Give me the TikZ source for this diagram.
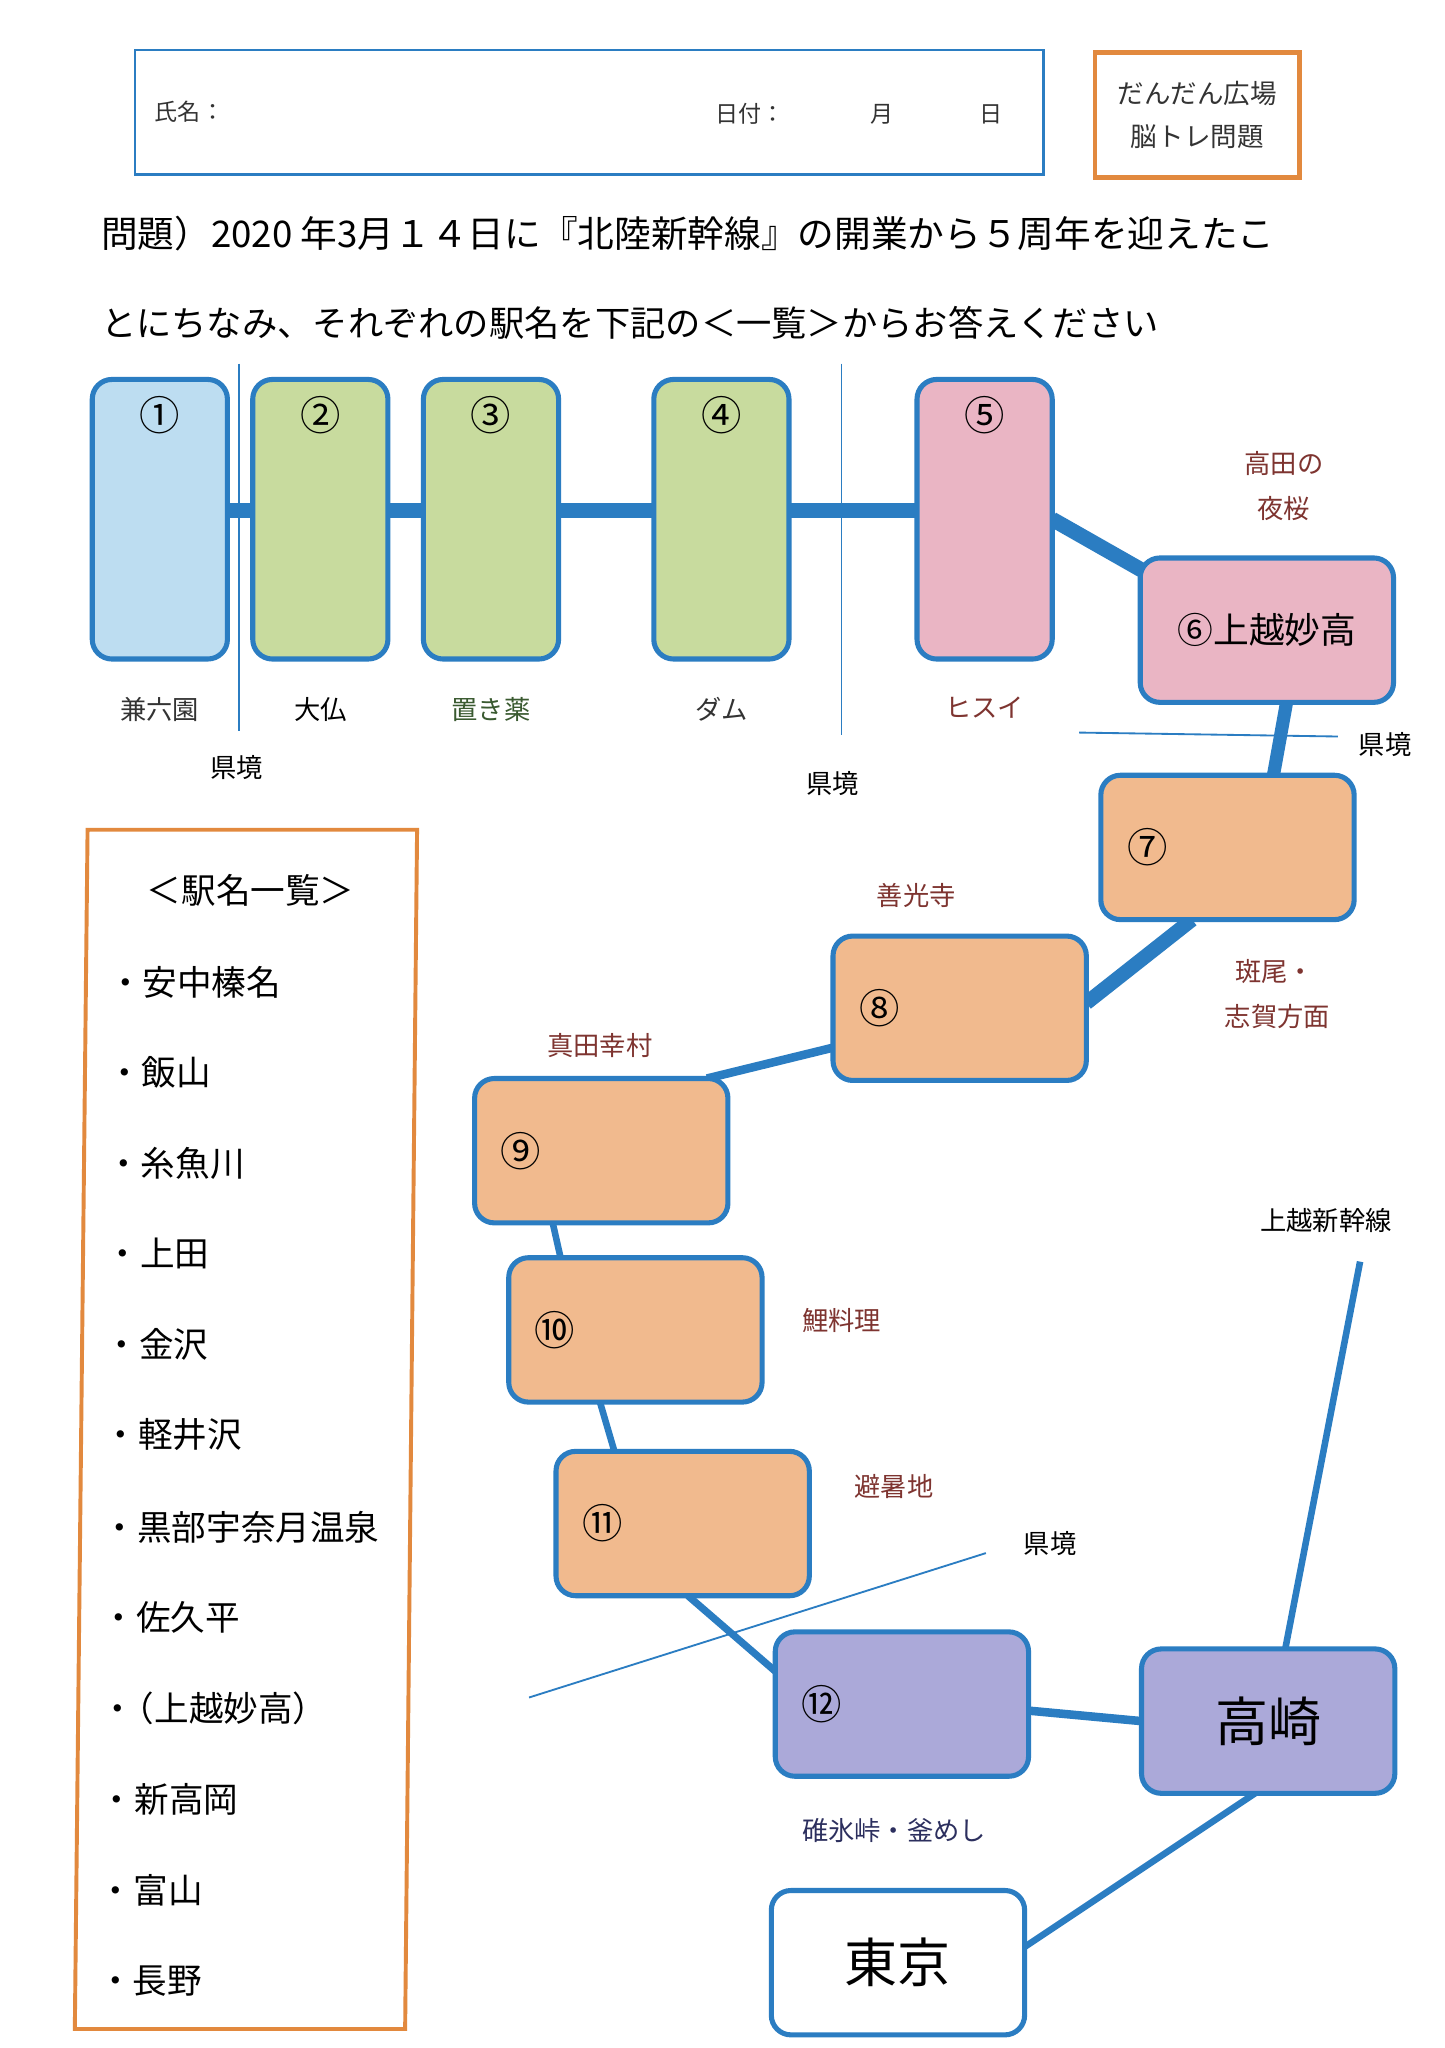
\documentclass[tikz,border=0pt]{standalone}
\usepackage{fontspec}
\setmainfont{Noto Sans CJK JP}
\usetikzlibrary{positioning}
\usetikzlibrary{calc}
\usetikzlibrary{backgrounds}
\definecolor{railblue}{HTML}{2B7DC2}
\definecolor{frameorange}{HTML}{E2893E}
\definecolor{ishikawa}{HTML}{BDDDF1}
\definecolor{toyama}{HTML}{C8DB9E}
\definecolor{niigata}{HTML}{EAB5C4}
\definecolor{nagano}{HTML}{F1BA8E}
\definecolor{gunma}{HTML}{ABA9D9}
\definecolor{hintred}{HTML}{7E3430}
\definecolor{hintgreen}{HTML}{3A5A30}
\definecolor{hintnavy}{HTML}{2C2F5E}
\definecolor{textgray}{HTML}{333333}

\begin{document}
\begin{tikzpicture}[x=0.02cm, y=-0.02cm,
  every node/.style={inner sep=0pt, outer sep=0pt},
  stationbox/.style={draw=railblue, line width=2.2pt, rounded corners=0.3cm},
  tallbox/.style={stationbox, minimum width=2.06cm, minimum height=4.26cm},
  widebox/.style={stationbox, minimum width=3.86cm, minimum height=2.2cm},
  numtext/.style={font=\fontsize{17.5}{18}\selectfont},
  labeltext/.style={font=\fontsize{11.4}{12}\selectfont},
  hinttext/.style={labeltext, text=hintred},
  listtext/.style={font=\fontsize{15}{16}\selectfont},
  bordline/.style={railblue, line width=0.8pt},
  mainline/.style={railblue, line width=0.23cm}]

\useasboundingbox (0,0) rectangle (1100,1560);
\begin{scope}[on background layer]
  \fill[white] (0,0) rectangle (1100,1560);
\end{scope}

% header
  \draw[railblue, line width=1.1pt] (103,38) rectangle (795,133);
  \node[anchor=west, text=textgray, font=\fontsize{10}{10}\selectfont] (shimei) at (118,85) {氏名：};
  \node[anchor=west, text=textgray, font=\fontsize{10}{10}\selectfont] (hiduke) at (545,87) {日付：};
  \node[text=textgray, font=\fontsize{10}{10}\selectfont] (tsuki) at (672,87) {月};
  \node[text=textgray, font=\fontsize{10}{10}\selectfont] (hi) at (755,87) {日};
  \node[draw=frameorange, line width=2pt, minimum width=3.12cm, minimum height=1.9cm, align=center, text=textgray, font=\fontsize{11.5}{19}\selectfont] (brand) at (912,87.5) {だんだん広場\\脳トレ問題};

% question
  \node[anchor=west, font=\fontsize{15.9}{16}\selectfont] (q1) at (77,178) {問題）2020 年3月１４日に『北陸新幹線』の開業から５周年を迎えたこ};
  \node[anchor=west, font=\fontsize{15.3}{16}\selectfont] (q2) at (77,246) {とにちなみ、それぞれの駅名を下記の＜一覧＞からお答えください};

% Stations 1 - 5
  \node[tallbox, fill=ishikawa] (s1) at (121.75,395.5) {};
  \node[numtext, below=0.26cm of s1.north] (n1) {①};
  \node[labeltext, text=textgray, below=0.58cm of s1.south] (k1) {兼六園};

  \node[tallbox, fill=toyama] (s2) at (244,395.5) {};
  \node[numtext, below=0.26cm of s2.north] (n2) {②};
  \node[labeltext, below=0.58cm of s2.south] (k2) {大仏};

  \node[tallbox, fill=toyama] (s3) at (374,395.5) {};
  \node[numtext, below=0.26cm of s3.north] (n3) {③};
  \node[labeltext, text=hintgreen, below=0.58cm of s3.south] (k3) {置き薬};

  \node[tallbox, fill=toyama] (s4) at (549.5,395.5) {};
  \node[numtext, below=0.26cm of s4.north] (n4) {④};
  \node[labeltext, text=textgray, below=0.58cm of s4.south] (k4) {ダム};

  \node[tallbox, fill=niigata] (s5) at (750,395.5) {};
  \node[numtext, below=0.26cm of s5.north] (n5) {⑤};
  \node[labeltext, text=hintred, below=0.58cm of s5.south] (k5) {ヒスイ};

% Station 6
  \node[widebox, fill=niigata, font=\fontsize{15.5}{16}\selectfont] (s6) at (965,480) {⑥上越妙高};
  \node[hinttext] (takada1) at (978,353) {高田の};
  \node[hinttext] (takada2) at (978,387) {夜桜};

% Stations 7 - 12
  \node[widebox, fill=nagano] (s7) at (935,645.5) {};
  \node[numtext, right=0.4cm of s7.west] (n7) {⑦};
  \node[widebox, fill=nagano] (s8) at (731,768) {};
  \node[numtext, right=0.4cm of s8.west] (n8) {⑧};
  \node[widebox, fill=nagano] (s9) at (458,876.5) {};
  \node[numtext, right=0.4cm of s9.west] (n9) {⑨};
  \node[widebox, fill=nagano] (s10) at (484,1013) {};
  \node[numtext, right=0.4cm of s10.west] (n10) {⑩};
  \node[widebox, fill=nagano] (s11) at (520,1160.5) {};
  \node[numtext, right=0.4cm of s11.west] (n11) {⑪};
  \node[widebox, fill=gunma] (s12) at (687,1298) {};
  \node[numtext, right=0.4cm of s12.west] (n12) {⑫};

  \node[hinttext] (zenkoji) at (698,682) {善光寺};
  \node[hinttext] (madarao1) at (971,740) {斑尾・};
  \node[hinttext] (madarao2) at (973,774) {志賀方面};
  \node[hinttext] (sanada) at (457,796) {真田幸村};
  \node[hinttext] (koi) at (641,1006) {鯉料理};
  \node[hinttext] (hisho) at (681,1132) {避暑地};
  \node[labeltext, text=hintnavy] (usui) at (681,1394) {碓氷峠・釜めし};

% Takasaki, Tokyo
  \node[widebox, fill=gunma, font=\fontsize{23}{24}\selectfont] (takasaki) at (966,1311) {高崎};
  \node[widebox, fill=white, font=\fontsize{23}{24}\selectfont] (tokyo) at (684,1495) {東京};
  \coordinate (joetsutop) at (1036,961);
  \node[labeltext] (joetsu) at (1010,930) {上越新幹線};

% prefecture borders
  \draw[bordline] (182,277) -- (182,557);
  \node[labeltext] (kyo1) at (180,585) {県境};
  \draw[bordline] (641,277) -- (641,560);
  \node[labeltext] (kyo2) at (634,597) {県境};
  \draw[bordline] (822,558) -- (1019,561);
  \node[labeltext] (kyo3) at (1055,567) {県境};
  \draw[bordline] (403,1293) -- (751,1183);
  \node[labeltext] (kyo4) at (800,1176) {県境};

% list of stations
  \draw[frameorange, line width=1.7pt] (66.7,632) -- (317.7,632) -- (308.6,1545.5) -- (57,1545.5) -- cycle;
  \node[listtext] (ichiran) at (191,678) {＜駅名一覧＞};
  \node[listtext, anchor=west] (e1) at (82.4,748) {・安中榛名};
  \node[listtext, anchor=west] (e2) at (81.7,817) {・飯山};
  \node[listtext, anchor=west] (e3) at (81,886) {・糸魚川};
  \node[listtext, anchor=west] (e4) at (80.3,955) {・上田};
  \node[listtext, anchor=west] (e5) at (79.6,1024) {・金沢};
  \node[listtext, anchor=west] (e6) at (78.9,1093) {・軽井沢};
  \node[listtext, anchor=west] (e7) at (78.2,1163) {・黒部宇奈月温泉};
  \node[listtext, anchor=west] (e8) at (77.5,1232) {・佐久平};
  \node[listtext, anchor=west] (e9) at (76.8,1301) {・\kern-0.45em（上越妙高）};
  \node[listtext, anchor=west] (e10) at (76.1,1371) {・新高岡};
  \node[listtext, anchor=west] (e11) at (75.4,1440) {・富山};
  \node[listtext, anchor=west] (e12) at (74.7,1509) {・長野};

% tracks
\begin{scope}[on background layer]
  \draw[mainline] ([yshift=0.13cm]s1.center) -- ([yshift=0.13cm]s5.center);
  \draw[mainline] (s5.east) -- ($(s6.north west)+(6,12)$);
  \draw[railblue, line width=0.2cm] ($(s6.south)+(15,0)$) -- ($(s7.north)+(35,0)$);
  \draw[railblue, line width=0.22cm] ($(s7.south)+(-27,0)$) -- ($(s8.east)+(0,-4)$);
  \draw[railblue, line width=0.13cm] ($(s8.west)+(0,30)$) -- ($(s9.north east)+(-16,0)$);
  \draw[railblue, line width=0.1cm] ($(s9.south)+(-37,0)$) -- ($(s10.north)+(-57,0)$);
  \draw[railblue, line width=0.1cm] ($(s10.south)+(-27,0)$) -- ($(s11.north)+(-52,0)$);
  \draw[railblue, line width=0.11cm] ($(s11.south)+(4,0)$) -- ($(s12.west)+(0,-25)$);
  \draw[railblue, line width=0.13cm] ($(s12.east)+(0,5)$) -- (takasaki.west);
  \draw[railblue, line width=0.1cm] ($(takasaki.south)+(-10,0)$) -- ($(tokyo.east)+(0,-12)$);
  \draw[railblue, line width=0.1cm] (joetsutop) -- ($(takasaki.north)+(13,0)$);
\end{scope}

\end{tikzpicture}
\end{document}
